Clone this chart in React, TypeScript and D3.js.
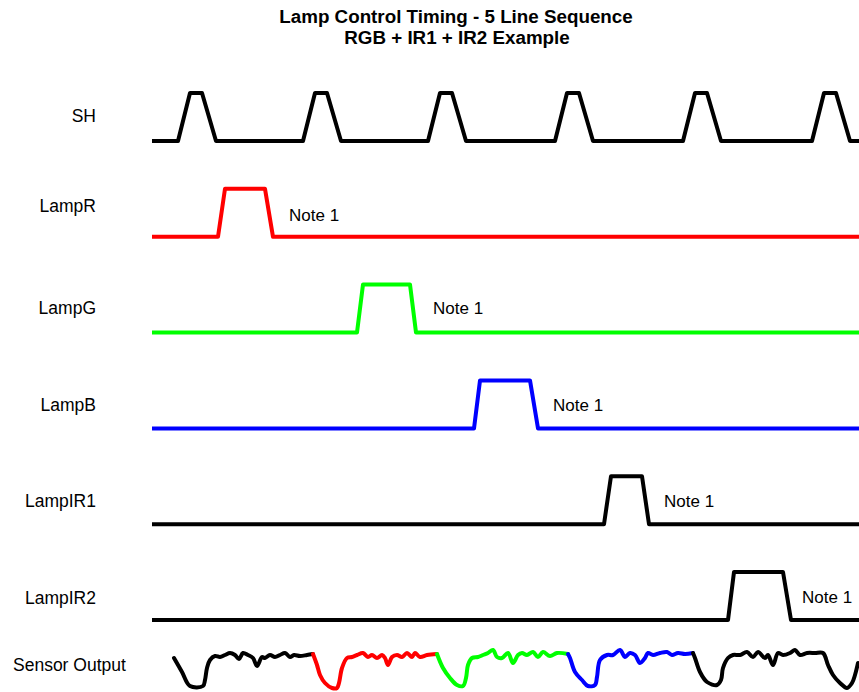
import React from "react";
import * as d3 from "d3";

// ---- data (time in ticks along the plot, signal levels) ----
const laneNames = ["SH", "LampR", "LampG", "LampB", "LampIR1", "LampIR2"];
const laneColors = ["#000000", "#ff0000", "#00ff00", "#0000ff", "#000000", "#000000"];
const labelRaise = [25, 31, 25, 23, 23, 22];

// SH pulses: rise start times
const shPulseStarts = [26, 151, 276, 403, 531, 660];
const shEdges = [12, 12, 14]; // rise, top, fall durations

// Lamp pulses: [riseStart, topStart, topEnd, fallEnd]
const lampPulses: number[][] = [
  [66, 73, 113, 121],
  [205, 211, 258, 264],
  [322, 328, 378, 386],
  [452, 459, 490, 497],
  [576, 582, 631, 639],
];
const noteTimes = [137, 281, 401, 512, 650];
const noteRaise = [22, 25, 23, 23, 23];
const noteText = "Note 1";

// Sensor output segments: [time, level]
const sensorColors = ["#000000", "#ff0000", "#00ff00", "#0000ff", "#000000"];
const sensorBlack1: [number, number][] = [
  [22, 32], [30, 18], [38, 4], [51, 4], [53, 10], [55, 22], [58, 30], [63, 34], [68, 33], [73, 35],
  [78, 37], [83, 35], [87, 31], [91, 37], [96, 35], [101, 32], [105, 24], [110, 33], [113, 32],
  [118, 35], [123, 33], [128, 35], [133, 37], [138, 33], [142, 35], [148, 34], [155, 35], [161, 36],
];
const sensorRed: [number, number][] = [
  [161, 36], [165, 25], [168, 15], [173, 7], [180, 2], [185, 2], [187, 7], [190, 22], [195, 32],
  [200, 33], [205, 35], [211, 37], [216, 33], [220, 35], [225, 32], [230, 35], [233, 32], [236, 25],
  [240, 33], [245, 35], [250, 33], [255, 37], [260, 33], [263, 37], [268, 33], [275, 35], [285, 36],
];
const sensorGreen: [number, number][] = [
  [285, 36], [291, 22], [298, 12], [305, 5], [311, 4], [314, 12], [316, 25], [320, 32], [326, 33],
  [331, 35], [336, 37], [341, 40], [345, 33], [350, 32], [356, 37], [361, 27], [366, 35], [370, 37],
  [375, 35], [381, 38], [386, 33], [391, 38], [398, 34], [405, 37], [416, 36],
];
const sensorBlue: [number, number][] = [
  [416, 36], [418, 32], [423, 18], [430, 10], [436, 4], [443, 5], [445, 13], [448, 30], [455, 35],
  [461, 35], [468, 40], [473, 33], [478, 37], [483, 35], [488, 27], [493, 32], [496, 37], [501, 35],
  [508, 37], [515, 38], [520, 35], [526, 37], [533, 36], [541, 37],
];
const sensorBlack2: [number, number][] = [
  [541, 37], [543, 32], [548, 18], [555, 8], [565, 5], [569, 10], [571, 22], [576, 32], [581, 35],
  [588, 35], [595, 38], [601, 33], [606, 38], [613, 32], [616, 35], [621, 25], [626, 37], [631, 35],
  [638, 37], [643, 40], [648, 35], [655, 37], [663, 37], [671, 37], [676, 25], [681, 15], [688, 7],
  [695, 2], [700, 7], [703, 15], [706, 27],
];
const sensorSegments = [sensorBlack1, sensorRed, sensorGreen, sensorBlue, sensorBlack2];

const title1 = "Lamp Control Timing - 5 Line Sequence";
const title2 = "RGB + IR1 + IR2 Example";

// ---- layout ----
const W = 859;
const H = 692;
const FONT = "'Liberation Sans', Arial, sans-serif";

export default function App() {
  const x = d3.scaleLinear().domain([0, 707]).range([152, 859]);
  const laneBase = d3.scaleLinear().domain([0, 5]).range([141, 620]);
  const pulseH = 48;
  const ySensor = d3.scaleLinear().domain([0, 40]).range([690, 650]);
  const tEnd = 707;

  const line = d3
    .line<[number, number]>()
    .x((d) => x(d[0]))
    .y((d) => d[1]);

  const shPts = (): [number, number][] => {
    const b = laneBase(0);
    const h = b - pulseH;
    const pts: [number, number][] = [[0, b]];
    shPulseStarts.forEach((s) => {
      pts.push([s, b], [s + shEdges[0], h], [s + shEdges[0] + shEdges[1], h], [s + shEdges[0] + shEdges[1] + shEdges[2], b]);
    });
    pts.push([tEnd, b]);
    return pts;
  };

  const lampPts = (i: number): [number, number][] => {
    const b = laneBase(i + 1);
    const h = b - pulseH;
    const p = lampPulses[i];
    return [[0, b], [p[0], b], [p[1], h], [p[2], h], [p[3], b], [tEnd, b]];
  };

  const sensorLine = d3
    .line<[number, number]>()
    .x((d) => x(d[0]))
    .y((d) => ySensor(d[1]))
    .curve(d3.curveCatmullRom.alpha(0.5));

  return (
    <div style={{ position: "absolute", left: 0, top: 0, width: W, height: H, background: "#fff" }}>
      <svg width={W} height={H} style={{ display: "block" }}>
        <rect width={W} height={H} fill="#fff" />
        <text x={456} y={23} textAnchor="middle" fontFamily={FONT} fontWeight="bold" fontSize={18.8} fill="#000">
          {title1}
        </text>
        <text x={457} y={44} textAnchor="middle" fontFamily={FONT} fontWeight="bold" fontSize={18.8} fill="#000">
          {title2}
        </text>

        {laneNames.map((n, i) => (
          <text
            key={n}
            x={96}
            y={laneBase(i) - labelRaise[i] + 6}
            textAnchor="end"
            fontFamily={FONT}
            fontSize={17.5}
            fill="#000"
          >
            {n}
          </text>
        ))}
        <text x={13} y={671} fontFamily={FONT} fontSize={17.5} fill="#000">
          Sensor Output
        </text>

        <path d={line(shPts()) || ""} fill="none" stroke={laneColors[0]} strokeWidth={4} strokeLinejoin="round" />
        {lampPulses.map((_, i) => (
          <g key={i}>
            <path
              d={line(lampPts(i)) || ""}
              fill="none"
              stroke={laneColors[i + 1]}
              strokeWidth={4}
              strokeLinejoin="round"
            />
            <text x={x(noteTimes[i])} y={laneBase(i + 1) - noteRaise[i] + 6} fontFamily={FONT} fontSize={17} fill="#000">
              {noteText}
            </text>
          </g>
        ))}

        {sensorSegments.map((seg, i) => (
          <path
            key={i}
            d={sensorLine(seg) || ""}
            fill="none"
            stroke={sensorColors[i]}
            strokeWidth={4}
            strokeLinejoin="round"
            strokeLinecap="round"
          />
        ))}
      </svg>
    </div>
  );
}
